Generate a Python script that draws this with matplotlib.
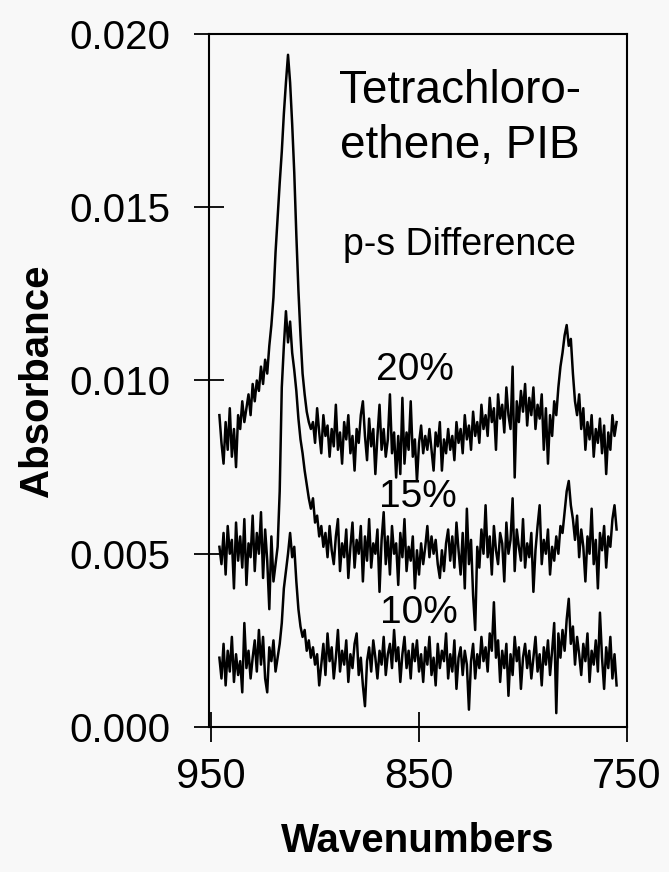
import numpy as np
import matplotlib
matplotlib.use("Agg")
import matplotlib.pyplot as plt

plt.rcParams['font.family'] = ['Liberation Sans', 'DejaVu Sans']

# wavenumber grid (cm-1), one point per wavenumber, read left to right
wavenumbers = np.arange(946, 754, -1)

# absorbance, in units of 1e-4
abs_20 = [
    90, 82, 76, 88, 80, 92, 78, 86, 75, 90,
    86, 94, 88, 92, 96, 90, 99, 94, 100, 97,
    104, 99, 106, 102, 110, 116, 124, 137, 147, 157,
    166, 177, 186, 194, 186, 174, 160, 142, 126, 113,
    102, 96, 91, 88, 86, 88, 82, 92, 85, 79,
    90, 84, 87, 78, 86, 81, 93, 80, 85, 76,
    88, 83, 90, 79, 84, 74, 86, 82, 90, 94,
    84, 77, 89, 81, 86, 73, 84, 93, 80, 86,
    78, 83, 96, 79, 85, 72, 84, 73, 95, 76,
    85, 80, 94, 78, 83, 71, 82, 87, 79, 84,
    80, 86, 80, 74, 85, 81, 88, 74, 83, 79,
    86, 80, 84, 77, 88, 82, 86, 79, 90, 83,
    87, 80, 91, 84, 88, 82, 93, 86, 90, 84,
    95, 88, 92, 80, 96, 89, 93, 85, 98, 90,
    86, 104, 72, 94, 88, 97, 91, 99, 87, 95,
    90, 98, 86, 93, 89, 96, 80, 92, 76, 90,
    84, 94, 90, 98, 104, 108, 113, 116, 110, 112,
    102, 94, 90, 96, 86, 92, 80, 88, 83, 90,
    78, 86, 82, 89, 79, 87, 73, 85, 80, 90,
    84, 88,
]

abs_15 = [
    52, 47, 56, 44, 58, 50, 54, 40, 59, 48,
    55, 46, 60, 41, 53, 49, 61, 45, 56, 50,
    62, 43, 57, 48, 34, 55, 42, 47, 52, 68,
    98, 110, 120, 111, 117, 108, 103, 97, 89, 83,
    79, 74, 70, 66, 63, 66, 59, 61, 55, 58,
    52, 56, 49, 58, 51, 47, 55, 60, 45, 53,
    49, 57, 43, 52, 59, 46, 54, 50, 58, 42,
    55, 48, 60, 46, 53, 50, 57, 39, 54, 62,
    47, 55, 44, 58, 50, 53, 41, 56, 49, 60,
    45, 52, 48, 55, 40, 51, 44, 53, 47, 52,
    58, 49, 55, 50, 54, 47, 43, 51, 45, 53,
    57, 48, 55, 46, 59, 51, 44, 56, 40, 63,
    47, 54, 38, 28, 52, 46, 57, 50, 64, 49,
    55, 44, 58, 51, 47, 56, 53, 42, 59, 50,
    54, 66, 45, 57, 52, 48, 60, 46, 53, 49,
    56, 39, 51, 58, 64, 47, 54, 50, 57, 44,
    52, 48, 55, 50, 58, 56, 62, 68, 71, 64,
    60, 54, 61, 49, 57, 52, 42, 55, 50, 63,
    47, 54, 40, 56, 51, 58, 46, 55, 52, 60,
    64, 57,
]

abs_10 = [
    20, 14, 24, 12, 22, 16, 26, 13, 21, 15,
    19, 10, 30, 17, 22, 14, 20, 25, 16, 28,
    18, 26, 14, 10, 23, 19, 25, 16, 20, 24,
    30, 40, 45, 50, 56, 49, 52, 42, 34, 29,
    26, 28, 22, 25, 20, 23, 18, 21, 12, 18,
    24, 15, 27, 19, 23, 14, 20, 28, 16, 22,
    18, 25, 13, 21, 17, 24, 27, 15, 20, 12,
    6, 19, 23, 16, 25, 20, 14, 22, 18, 26,
    15, 21, 24, 17, 28, 19, 23, 13, 21, 26,
    17, 22, 14, 24, 19, 25, 16, 21, 13, 23,
    18, 26, 15, 20, 12, 24, 17, 22, 19, 27,
    14, 21, 16, 25, 11, 20, 23, 15, 22, 18,
    5, 19, 24, 14, 21, 17, 26, 19, 23, 16,
    27, 22, 36, 20, 25, 13, 22, 17, 24, 9,
    21, 15, 26, 19, 23, 11, 20, 24, 17, 22,
    14, 20, 26, 16, 21, 12, 23, 18, 25, 15,
    22, 30, 4, 27, 20, 28, 22, 31, 37, 24,
    29, 18, 26, 21, 15, 24, 19, 27, 13, 22,
    18, 25, 16, 33, 20, 11, 23, 17, 26, 14,
    21, 12,
]

series = [abs_20, abs_15, abs_10]
labels = ["20%", "15%", "10%"]
label_pos = [(852, 0.0100), (850.5, 0.00635), (850, 0.0030)]

x_ticks = [950, 850, 750]
y_ticks = [0.000, 0.005, 0.010, 0.015, 0.020]
y_tick_labels = ["0.000", "0.005", "0.010", "0.015", "0.020"]

bg = '#f8f8f8'
fig = plt.figure(figsize=(6.69, 8.72), dpi=100)
fig.patch.set_facecolor(bg)
ax = fig.add_axes([0.3124, 0.1663, 0.6248, 0.7947])
ax.set_facecolor(bg)

for vals in series:
    ax.plot(wavenumbers, np.array(vals) * 1e-4, color='black', lw=1.8)

for lab, (lx, ly) in zip(labels, label_pos):
    ax.text(lx, ly, lab, fontsize=28, ha='center', va='baseline')

ax.text(830.5, 0.0180, "Tetrachloro-", fontsize=33, ha='center', va='baseline')
ax.text(830.5, 0.01642, "ethene, PIB", fontsize=33, ha='center', va='baseline')
ax.text(830.5, 0.01362, "p-s Difference", fontsize=27, ha='center', va='baseline')

ax.set_xlim(951, 750)
ax.set_ylim(0, 0.020)
ax.set_xticks(x_ticks)
ax.set_xticklabels([str(t) for t in x_ticks])
ax.set_yticks(y_ticks)
ax.set_yticklabels(y_tick_labels)

ax.tick_params(axis='both', direction='inout', length=21, width=1.3, color='black')
ax.tick_params(axis='x', labelsize=30, pad=11)
ax.tick_params(axis='y', labelsize=29, pad=17)
for s in ax.spines.values():
    s.set_linewidth(1.5)

ax.set_xlabel("Wavenumbers", fontsize=29, fontweight='bold', labelpad=18)
ax.set_ylabel("Absorbance", fontsize=29, fontweight='bold', labelpad=10)

fig.savefig("out.png", dpi=100, facecolor=bg)
